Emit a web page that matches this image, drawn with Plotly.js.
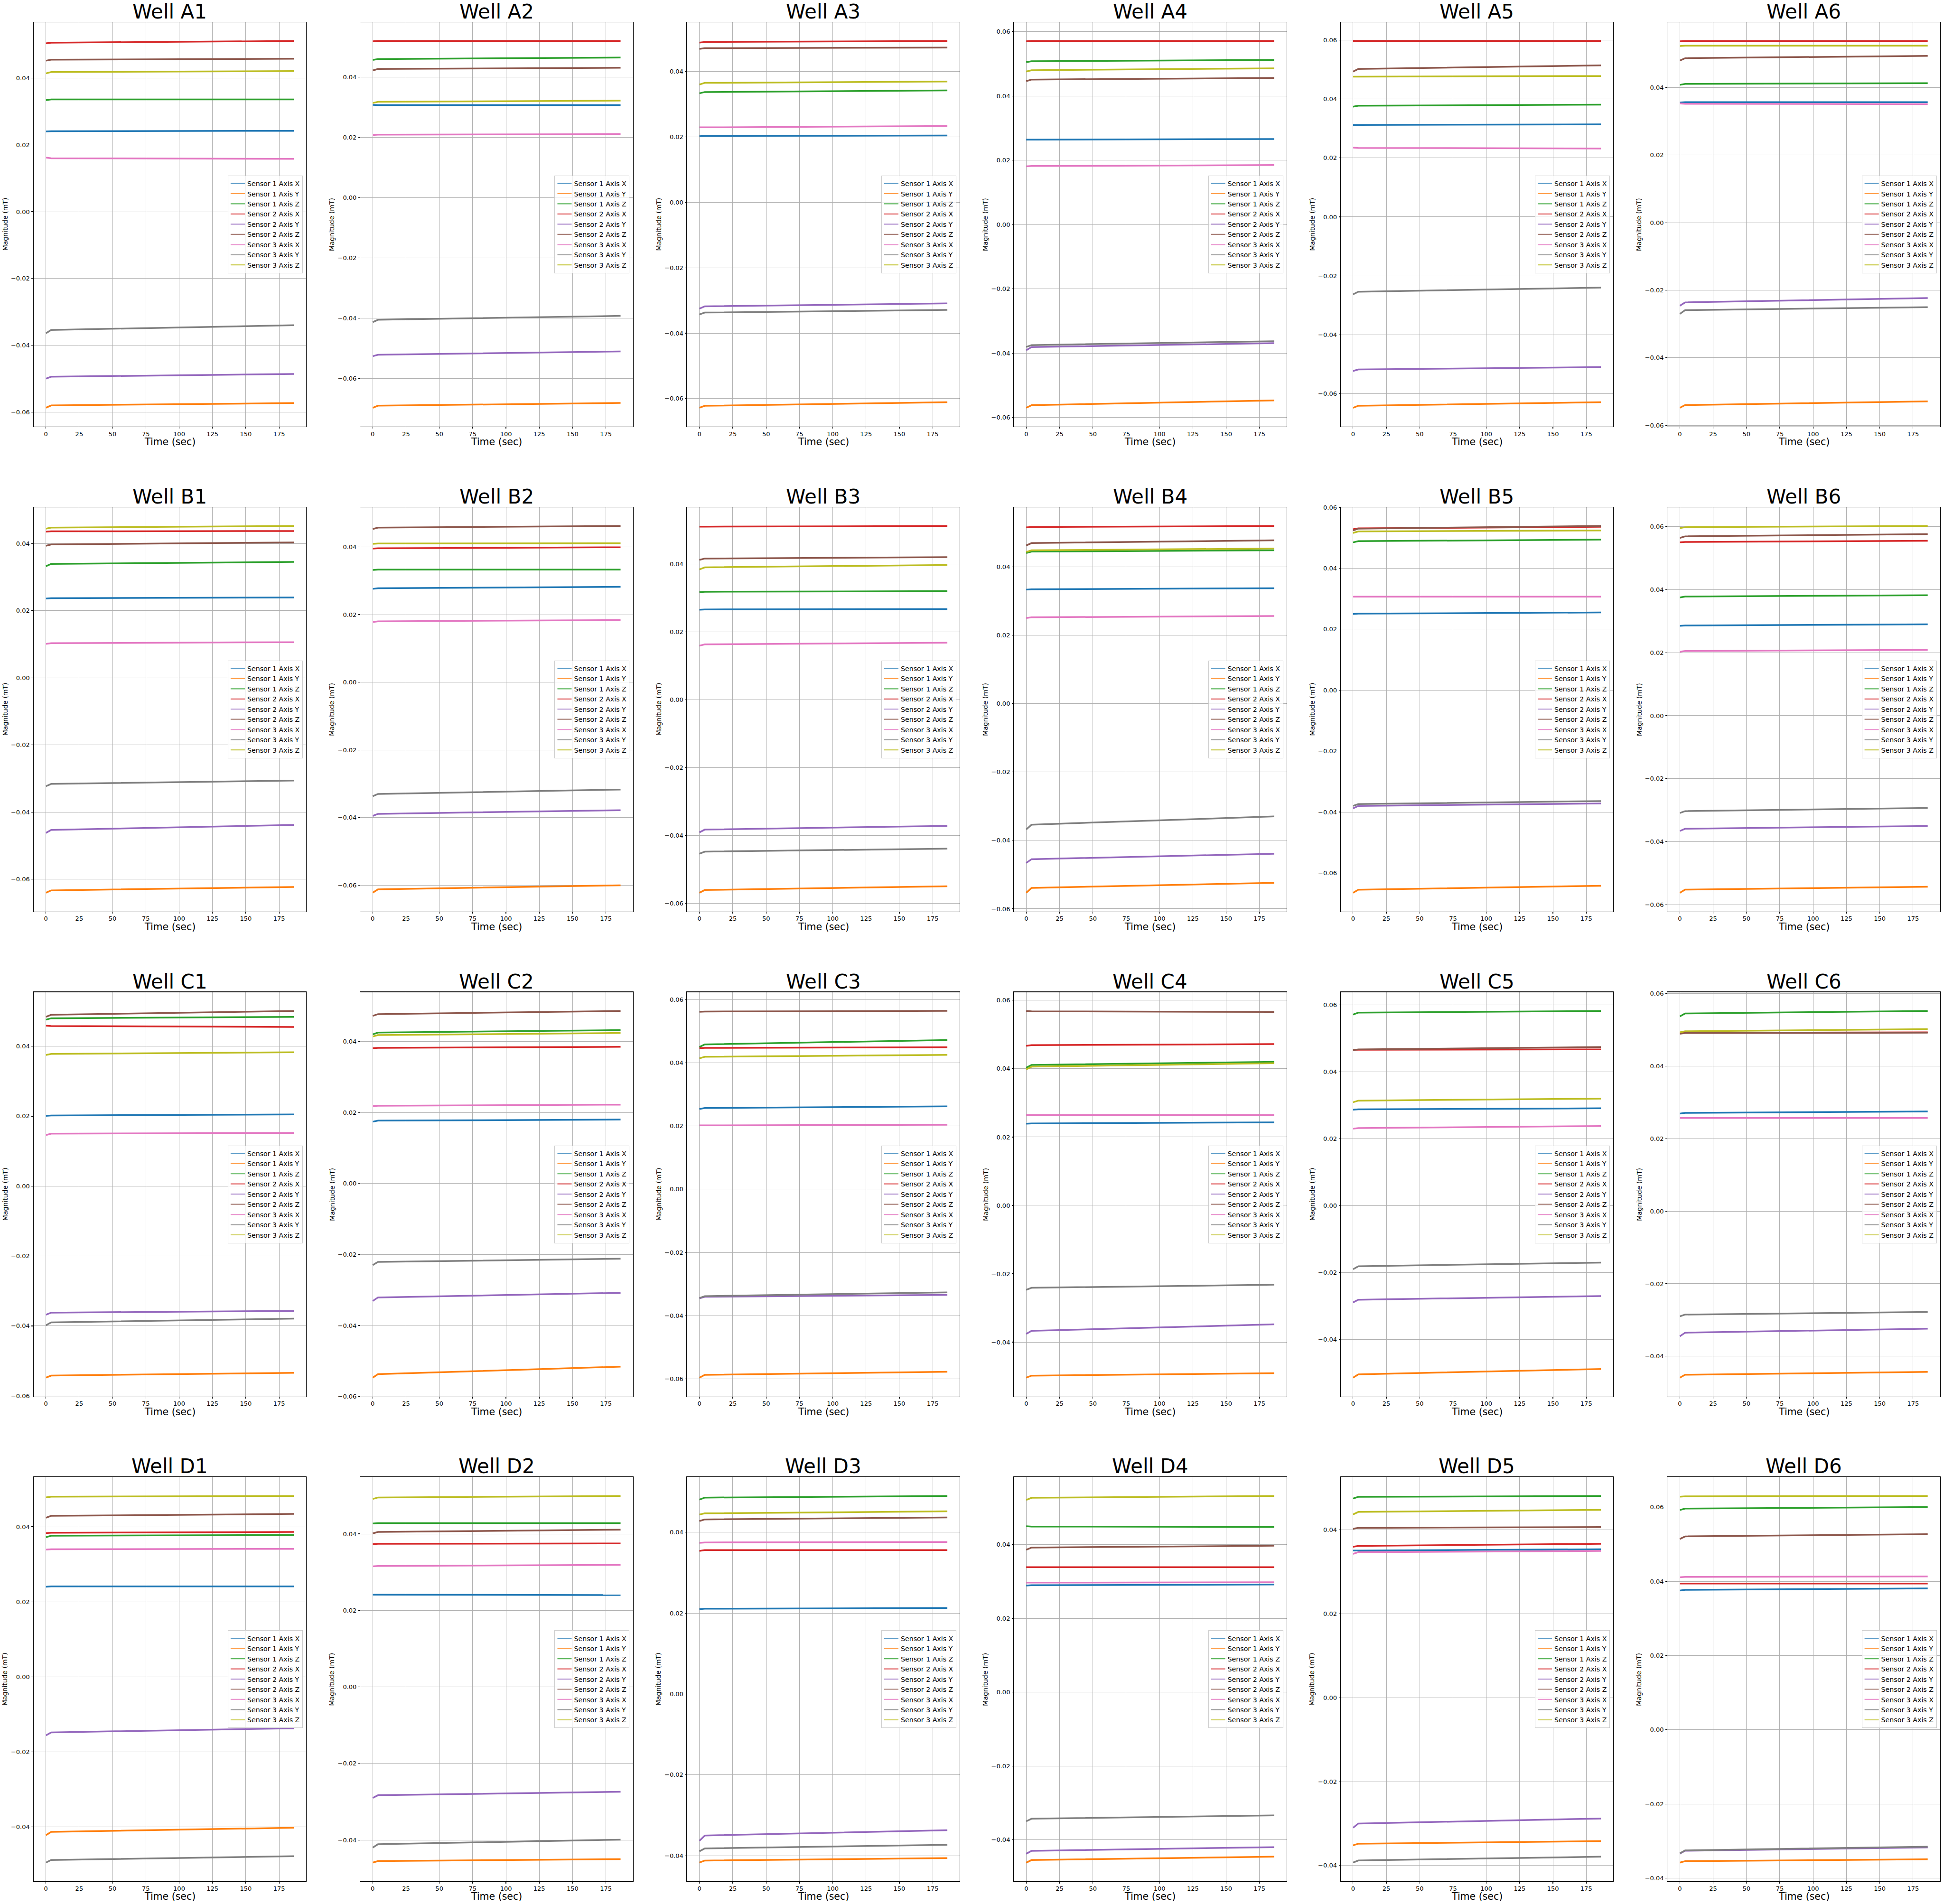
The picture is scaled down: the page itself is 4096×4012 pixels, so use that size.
<!DOCTYPE html>
<html>
<head>
<meta charset="utf-8">
<script src="https://cdn.plot.ly/plotly-3.0.1.min.js"></script>
<style>
  html, body { margin: 0; padding: 0; background: #ffffff; }
  #chart { width: 4096px; height: 4012px; }
</style>
</head>
<body>
<div id="chart"></div>
<script>
// ---------------- DATA ----------------
const wells = ['A1','A2','A3','A4','A5','A6',
               'B1','B2','B3','B4','B5','B6',
               'C1','C2','C3','C4','C5','C6',
               'D1','D2','D3','D4','D5','D6'];
const seriesNames = ['Sensor 1 Axis X','Sensor 1 Axis Y','Sensor 1 Axis Z',
                     'Sensor 2 Axis X','Sensor 2 Axis Y','Sensor 2 Axis Z',
                     'Sensor 3 Axis X','Sensor 3 Axis Y','Sensor 3 Axis Z'];
// sample times (sec): start, end of start-up transient, end of recording
const timeSec = [0, 4, 186];
const xTickValues = [0, 25, 50, 75, 100, 125, 150, 175];
const yTickStep = 0.02;

// magnitude (mT) at timeSec, one row per series (order of seriesNames)
const A1 = [[0.0240,0.0241,0.0242],[-0.0587,-0.0580,-0.0573],[0.0334,0.0336,0.0336],
            [0.0504,0.0506,0.0511],[-0.0500,-0.0494,-0.0486],[0.0452,0.0455,0.0458],
            [0.0162,0.0160,0.0158],[-0.0364,-0.0354,-0.0340],[0.0414,0.0418,0.0421]];
const A2 = [[0.0308,0.0307,0.0307],[-0.0697,-0.0690,-0.0681],[0.0457,0.0460,0.0465],
            [0.0519,0.0520,0.0520],[-0.0526,-0.0521,-0.0510],[0.0422,0.0427,0.0431],
            [0.0208,0.0209,0.0211],[-0.0413,-0.0405,-0.0392],[0.0314,0.0318,0.0322]];
const A3 = [[0.0202,0.0203,0.0204],[-0.0628,-0.0622,-0.0611],[0.0333,0.0337,0.0342],
            [0.0488,0.0490,0.0493],[-0.0325,-0.0318,-0.0309],[0.0469,0.0471,0.0473],
            [0.0229,0.0229,0.0233],[-0.0343,-0.0337,-0.0329],[0.0360,0.0365,0.0369]];
const A4 = [[0.0264,0.0264,0.0266],[-0.0570,-0.0562,-0.0547],[0.0505,0.0508,0.0512],
            [0.0570,0.0571,0.0571],[-0.0391,-0.0381,-0.0369],[0.0446,0.0451,0.0456],
            [0.0181,0.0182,0.0185],[-0.0381,-0.0375,-0.0363],[0.0476,0.0480,0.0486]];
const A5 = [[0.0312,0.0312,0.0314],[-0.0648,-0.0641,-0.0629],[0.0374,0.0377,0.0381],
            [0.0597,0.0597,0.0597],[-0.0523,-0.0518,-0.0510],[0.0493,0.0502,0.0514],
            [0.0235,0.0234,0.0232],[-0.0263,-0.0254,-0.0240],[0.0476,0.0476,0.0478]];
const A6 = [[0.0356,0.0357,0.0357],[-0.0548,-0.0540,-0.0529],[0.0408,0.0411,0.0413],
            [0.0537,0.0538,0.0538],[-0.0246,-0.0236,-0.0223],[0.0480,0.0487,0.0494],
            [0.0353,0.0352,0.0351],[-0.0270,-0.0259,-0.0250],[0.0523,0.0524,0.0524]];
const B1 = [[0.0236,0.0237,0.0239],[-0.0640,-0.0633,-0.0623],[0.0332,0.0339,0.0345],
            [0.0435,0.0436,0.0437],[-0.0462,-0.0453,-0.0438],[0.0393,0.0397,0.0403],
            [0.0101,0.0103,0.0106],[-0.0323,-0.0316,-0.0306],[0.0444,0.0447,0.0452]];
const B2 = [[0.0276,0.0278,0.0282],[-0.0622,-0.0612,-0.0600],[0.0332,0.0333,0.0333],
            [0.0395,0.0396,0.0399],[-0.0395,-0.0389,-0.0378],[0.0453,0.0457,0.0462],
            [0.0178,0.0180,0.0184],[-0.0337,-0.0330,-0.0317],[0.0409,0.0410,0.0411]];
const B3 = [[0.0265,0.0266,0.0267],[-0.0569,-0.0561,-0.0550],[0.0317,0.0318,0.0320],
            [0.0510,0.0510,0.0512],[-0.0391,-0.0383,-0.0372],[0.0412,0.0416,0.0420],
            [0.0159,0.0163,0.0168],[-0.0454,-0.0448,-0.0439],[0.0384,0.0390,0.0397]];
const B4 = [[0.0333,0.0334,0.0337],[-0.0553,-0.0539,-0.0524],[0.0440,0.0444,0.0448],
            [0.0515,0.0516,0.0519],[-0.0466,-0.0455,-0.0439],[0.0462,0.0469,0.0477],
            [0.0250,0.0252,0.0256],[-0.0368,-0.0354,-0.0330],[0.0443,0.0448,0.0453]];
const B5 = [[0.0250,0.0251,0.0255],[-0.0665,-0.0655,-0.0642],[0.0485,0.0489,0.0494],
            [0.0528,0.0531,0.0536],[-0.0388,-0.0380,-0.0372],[0.0524,0.0530,0.0539],
            [0.0307,0.0307,0.0307],[-0.0380,-0.0374,-0.0364],[0.0516,0.0521,0.0524]];
const B6 = [[0.0285,0.0286,0.0290],[-0.0562,-0.0552,-0.0543],[0.0375,0.0378,0.0382],
            [0.0550,0.0551,0.0555],[-0.0366,-0.0359,-0.0350],[0.0564,0.0569,0.0576],
            [0.0203,0.0205,0.0209],[-0.0309,-0.0303,-0.0293],[0.0595,0.0598,0.0602]];
const C1 = [[0.0201,0.0202,0.0205],[-0.0548,-0.0542,-0.0534],[0.0476,0.0480,0.0484],
            [0.0459,0.0458,0.0455],[-0.0368,-0.0362,-0.0357],[0.0484,0.0490,0.0501],
            [0.0146,0.0150,0.0152],[-0.0398,-0.0390,-0.0379],[0.0375,0.0378,0.0383]];
const C2 = [[0.0174,0.0177,0.0180],[-0.0547,-0.0537,-0.0516],[0.0420,0.0425,0.0432],
            [0.0381,0.0382,0.0385],[-0.0331,-0.0321,-0.0308],[0.0472,0.0477,0.0486],
            [0.0218,0.0219,0.0222],[-0.0230,-0.0221,-0.0212],[0.0414,0.0418,0.0424]];
const C3 = [[0.0254,0.0257,0.0262],[-0.0596,-0.0587,-0.0577],[0.0450,0.0458,0.0472],
            [0.0446,0.0447,0.0449],[-0.0345,-0.0340,-0.0334],[0.0561,0.0562,0.0564],
            [0.0202,0.0202,0.0204],[-0.0344,-0.0338,-0.0326],[0.0414,0.0419,0.0425]];
const C4 = [[0.0239,0.0240,0.0243],[-0.0504,-0.0498,-0.0491],[0.0403,0.0411,0.0420],
            [0.0467,0.0469,0.0472],[-0.0376,-0.0367,-0.0348],[0.0569,0.0568,0.0566],
            [0.0264,0.0264,0.0264],[-0.0247,-0.0241,-0.0232],[0.0398,0.0406,0.0416]];
const C5 = [[0.0287,0.0288,0.0291],[-0.0514,-0.0504,-0.0488],[0.0571,0.0577,0.0582],
            [0.0466,0.0466,0.0467],[-0.0289,-0.0281,-0.0270],[0.0465,0.0467,0.0474],
            [0.0230,0.0232,0.0238],[-0.0190,-0.0181,-0.0170],[0.0309,0.0314,0.0320]];
const C6 = [[0.0269,0.0271,0.0275],[-0.0459,-0.0451,-0.0443],[0.0537,0.0545,0.0552],
            [0.0492,0.0492,0.0493],[-0.0345,-0.0335,-0.0324],[0.0489,0.0491,0.0492],
            [0.0257,0.0257,0.0257],[-0.0290,-0.0285,-0.0278],[0.0493,0.0496,0.0502]];
const D1 = [[0.0240,0.0241,0.0241],[-0.0422,-0.0413,-0.0402],[0.0372,0.0376,0.0378],
            [0.0383,0.0384,0.0386],[-0.0156,-0.0148,-0.0137],[0.0424,0.0429,0.0434],
            [0.0339,0.0340,0.0341],[-0.0495,-0.0488,-0.0478],[0.0478,0.0480,0.0482]];
const D2 = [[0.0241,0.0241,0.0240],[-0.0459,-0.0455,-0.0450],[0.0427,0.0428,0.0428],
            [0.0373,0.0374,0.0375],[-0.0290,-0.0283,-0.0274],[0.0401,0.0405,0.0411],
            [0.0315,0.0316,0.0319],[-0.0420,-0.0411,-0.0399],[0.0491,0.0495,0.0499]];
const D3 = [[0.0210,0.0211,0.0213],[-0.0417,-0.0412,-0.0406],[0.0481,0.0486,0.0490],
            [0.0354,0.0356,0.0356],[-0.0363,-0.0350,-0.0337],[0.0428,0.0432,0.0437],
            [0.0374,0.0375,0.0376],[-0.0389,-0.0382,-0.0373],[0.0444,0.0447,0.0452]];
const D4 = [[0.0289,0.0290,0.0292],[-0.0462,-0.0455,-0.0446],[0.0450,0.0449,0.0448],
            [0.0339,0.0339,0.0339],[-0.0438,-0.0430,-0.0420],[0.0386,0.0392,0.0397],
            [0.0297,0.0297,0.0298],[-0.0350,-0.0343,-0.0334],[0.0521,0.0527,0.0532]];
const D5 = [[0.0351,0.0351,0.0354],[-0.0352,-0.0348,-0.0342],[0.0475,0.0479,0.0481],
            [0.0360,0.0362,0.0367],[-0.0310,-0.0300,-0.0288],[0.0403,0.0405,0.0407],
            [0.0343,0.0347,0.0350],[-0.0393,-0.0388,-0.0379],[0.0437,0.0443,0.0448]];
const D6 = [[0.0375,0.0377,0.0381],[-0.0358,-0.0354,-0.0349],[0.0592,0.0596,0.0600],
            [0.0394,0.0394,0.0394],[-0.0334,-0.0326,-0.0317],[0.0514,0.0521,0.0527],
            [0.0411,0.0412,0.0413],[-0.0333,-0.0325,-0.0315],[0.0628,0.0629,0.0630]];

const wellData = {A1,A2,A3,A4,A5,A6,B1,B2,B3,B4,B5,B6,C1,C2,C3,C4,C5,C6,D1,D2,D3,D4,D5,D6};

// ---------------- STYLE / LAYOUT ----------------
const colors = ['#1f77b4','#ff7f0e','#2ca02c','#d62728','#9467bd',
                '#8c564b','#e377c2','#7f7f7f','#bcbd22'];
const legendColors = ['rgba(31,119,180,0.75)','rgba(255,127,14,0.75)','rgba(44,160,44,0.75)',
                      'rgba(214,39,40,0.75)','rgba(148,103,189,0.75)','rgba(140,86,75,0.75)',
                      'rgba(227,119,194,0.75)','rgba(127,127,127,0.75)','rgba(188,189,34,0.75)'];
const FONT = 'DejaVu Sans, Verdana, sans-serif';
const W = 4096, H = 4012, S = 0.72;
const NCOL = 6;
const colLeft = c => (98 + 956.3 * c) * S;
const rowTop  = r => (65 + 1419.3 * r) * S;
const plotW = 798 * S, plotH = 1183.3 * S;
const noiseHalf = 0.00012;

const traces = [];
const layout = {
  width: W, height: H,
  margin: {l: 0, r: 0, t: 0, b: 0, pad: 0},
  paper_bgcolor: '#ffffff', plot_bgcolor: '#ffffff',
  showlegend: true,
  annotations: [],
  font: {family: FONT, color: '#000000'}
};

wells.forEach((well, i) => {
  const n = i + 1;
  const r = Math.floor(i / NCOL), c = i % NCOL;
  const L = colLeft(c), T = rowTop(r);
  const xName = n === 1 ? 'x' : 'x' + n;
  const yName = n === 1 ? 'y' : 'y' + n;
  const xKey = n === 1 ? 'xaxis' : 'xaxis' + n;
  const yKey = n === 1 ? 'yaxis' : 'yaxis' + n;
  const legKey = n === 1 ? 'legend' : 'legend' + n;
  const rows = wellData[well];

  // y range like matplotlib autoscale (5% margins around data extent)
  let lo = Infinity, hi = -Infinity;
  rows.forEach(v => v.forEach(y => { lo = Math.min(lo, y); hi = Math.max(hi, y); }));
  lo -= noiseHalf; hi += noiseHalf;
  const span = hi - lo;
  const yRange = [lo - 0.05 * span, hi + 0.05 * span];
  const xRange = [timeSec[0] - 0.05 * (timeSec[2] - timeSec[0]),
                  timeSec[2] + 0.05 * (timeSec[2] - timeSec[0])];

  const axisCommon = {
    showgrid: true, gridcolor: '#b0b0b0', gridwidth: 1,
    showline: true, linecolor: '#000000', linewidth: 1.15, mirror: true,
    ticks: 'outside', ticklen: 3, tickwidth: 1.15, tickcolor: '#000000',
    tickfont: {family: FONT, size: 13, color: '#000000'},
    zeroline: false, fixedrange: true
  };
  layout[xKey] = Object.assign({}, axisCommon, {
    domain: [L / W, (L + plotW) / W], anchor: yName,
    range: xRange, tickmode: 'array', tickvals: xTickValues,
    ticktext: xTickValues.map(String), ticklabelstandoff: 0
  });
  layout[yKey] = Object.assign({}, axisCommon, {
    domain: [1 - (T + plotH) / H, 1 - T / H], anchor: xName,
    range: yRange, tickmode: 'linear', tick0: 0, dtick: yTickStep, tickformat: '.2f',
    ticklabelstandoff: 1
  });

  layout[legKey] = {
    x: (L + plotW - 10 * S) / W, xanchor: 'right',
    y: 1 - (T + plotH / 2) / H, yanchor: 'middle',
    bgcolor: 'rgba(255,255,255,0.8)', bordercolor: '#cccccc', borderwidth: 1,
    font: {family: FONT, size: 14.2, color: '#000000'},
    traceorder: 'normal', itemclick: false, itemdoubleclick: false
  };

  rows.forEach((vals, s) => {
    traces.push({
      type: 'scatter', mode: 'lines', x: timeSec, y: vals,
      xaxis: xName, yaxis: yName, name: seriesNames[s],
      line: {color: colors[s], width: 3.5}, showlegend: false, hoverinfo: 'skip'
    });
  });
  seriesNames.forEach((name, s) => {
    traces.push({
      type: 'scatter', mode: 'lines', x: [null], y: [null],
      xaxis: xName, yaxis: yName, name: name, legend: legKey,
      line: {color: legendColors[s], width: 2.2}, showlegend: true, hoverinfo: 'skip'
    });
  });

  // subplot title
  layout.annotations.push({
    xref: 'paper', yref: 'paper', x: (L + plotW / 2) / W, y: 1 - T / H,
    xanchor: 'center', yanchor: 'bottom', yshift: -4, showarrow: false,
    text: 'Well ' + well, font: {family: FONT, size: 42, color: '#000000'}
  });
  // x axis title
  layout.annotations.push({
    xref: 'paper', yref: 'paper', x: (L + plotW / 2) / W, y: 1 - (T + plotH) / H,
    xanchor: 'center', yanchor: 'middle', yshift: -32, showarrow: false,
    text: 'Time (sec)', font: {family: FONT, size: 20.5, color: '#000000'}
  });
  // y axis title
  layout.annotations.push({
    xref: 'paper', yref: 'paper', x: L / W, y: 1 - (T + plotH / 2) / H,
    xanchor: 'center', yanchor: 'middle', xshift: -60, showarrow: false, textangle: -90,
    text: 'Magnitude (mT)', font: {family: FONT, size: 14, color: '#000000'}
  });
});

Plotly.newPlot('chart', traces, layout, {displayModeBar: false, staticPlot: true});
</script>
</body>
</html>
